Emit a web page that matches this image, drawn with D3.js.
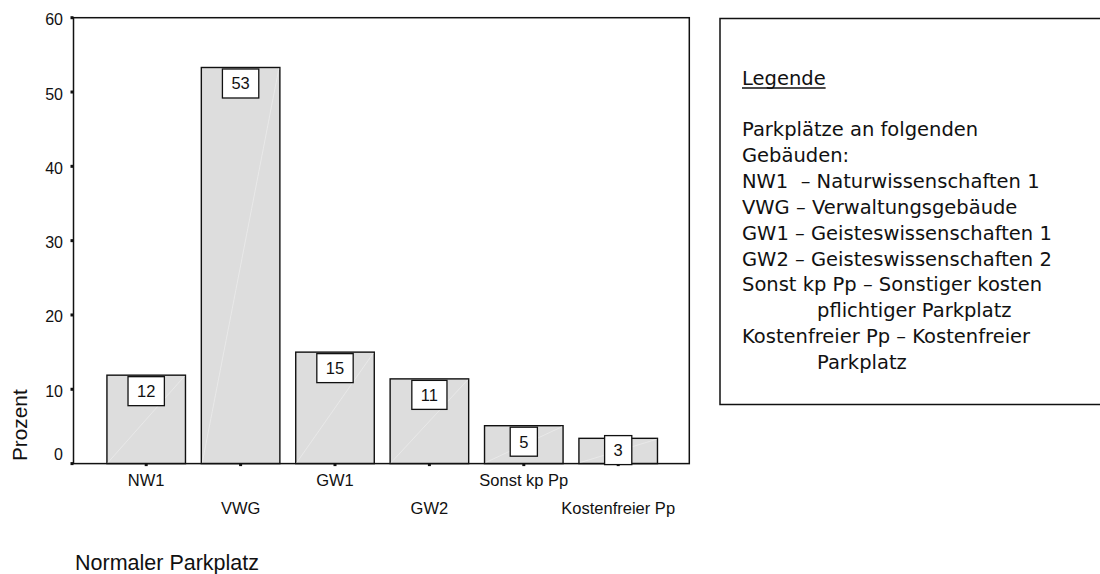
<!DOCTYPE html>
<html>
<head>
<meta charset="utf-8">
<script src="https://cdn.jsdelivr.net/npm/d3@7"></script>
<style>
  html, body { margin: 0; padding: 0; background: #fff; }
  svg { display: block; }
</style>
</head>
<body>
<svg id="chart" width="1100" height="574"></svg>
<script>
const categories = ["NW1", "VWG", "GW1", "GW2", "Sonst kp Pp", "Kostenfreier Pp"];
const values = [11.9, 53.3, 15.0, 11.4, 5.1, 3.4];
const valueLabels = ["12", "53", "15", "11", "5", "3"];
const yTicks = [0, 10, 20, 30, 40, 50, 60];
const yTitle = "Prozent";
const xTitle = "Normaler Parkplatz";
const legendTitle = "Legende";
const legendLines = [
  {text: "Parkplätze an folgenden", indent: false},
  {text: "Gebäuden:", indent: false},
  {text: "NW1  – Naturwissenschaften 1", indent: false},
  {text: "VWG – Verwaltungsgebäude", indent: false},
  {text: "GW1 – Geisteswissenschaften 1", indent: false},
  {text: "GW2 – Geisteswissenschaften 2", indent: false},
  {text: "Sonst kp Pp – Sonstiger kosten", indent: false},
  {text: "pflichtiger Parkplatz", indent: true},
  {text: "Kostenfreier Pp – Kostenfreier", indent: false},
  {text: "Parkplatz", indent: true}
];

const svg = d3.select("#chart");
const L = 73.5, T = 17.7, R = 689.3, B = 463.6;
const axisFont = "'Liberation Sans', Arial, sans-serif";

const y = d3.scaleLinear().domain([0, 60]).range([B, T]);
const x = d3.scaleBand().domain(categories).range([99, 665.4]).paddingInner(0.168).paddingOuter(0.084);

// bars
const bars = svg.append("g");
categories.forEach((c, i) => {
  const x0 = x(c), w = x.bandwidth(), yt = y(values[i]);
  bars.append("rect")
    .attr("x", x0).attr("y", yt).attr("width", w).attr("height", B - yt)
    .attr("fill", "#dddddd").attr("stroke", "#111").attr("stroke-width", 1.4);
  bars.append("line")
    .attr("x1", x0 + 1).attr("y1", B - 1).attr("x2", x0 + w - 1).attr("y2", yt + 1)
    .attr("stroke", "#ebebeb").attr("stroke-width", 0.8);
});

// frame
svg.append("rect").attr("x", L).attr("y", T).attr("width", R - L).attr("height", B - T)
  .attr("fill", "none").attr("stroke", "#111").attr("stroke-width", 1.5);

// y axis ticks + labels
const yg = svg.append("g");
yTicks.forEach(t => {
  yg.append("rect").attr("x", L - 3).attr("y", y(t) - 1.5).attr("width", 3).attr("height", 3).attr("fill", "#111");
  yg.append("text").attr("x", 63).attr("y", t === 0 ? 460 : y(t) + 7.5)
    .attr("text-anchor", "end").attr("font-family", axisFont).attr("font-size", 16)
    .attr("fill", "#111").text(t);
});

// x ticks + labels
const xg = svg.append("g");
categories.forEach((c, i) => {
  const cx = x(c) + x.bandwidth() / 2;
  xg.append("rect").attr("x", cx - 1.5).attr("y", B).attr("width", 3).attr("height", 2.5).attr("fill", "#111");
  xg.append("text").attr("x", cx).attr("y", i % 2 === 0 ? 486 : 514)
    .attr("text-anchor", "middle").attr("font-family", axisFont).attr("font-size", 16.5)
    .attr("fill", "#111").text(c);
});

// value label boxes
const lg = svg.append("g");
categories.forEach((c, i) => {
  const cx = x(c) + x.bandwidth() / 2;
  const top = Math.min(y(values[i]) + 1.5, B - 28);
  const g = lg.append("g");
  const rect = g.append("rect");
  const txt = g.append("text").attr("x", cx).attr("y", top + 20.5)
    .attr("text-anchor", "middle").attr("font-family", axisFont).attr("font-size", 16.5)
    .attr("fill", "#111").text(valueLabels[i]);
  const tw = txt.node().getComputedTextLength();
  const bw = tw + 18;
  rect.attr("x", cx - bw / 2).attr("y", top).attr("width", bw).attr("height", 29)
    .attr("fill", "#fff").attr("stroke", "#111").attr("stroke-width", 1.3);
});

// axis titles
svg.append("text").attr("transform", "translate(26.5,461) rotate(-90)")
  .attr("text-anchor", "start").attr("font-family", axisFont).attr("font-size", 20.8)
  .attr("fill", "#111").text(yTitle);
svg.append("text").attr("x", 75).attr("y", 570)
  .attr("font-family", axisFont).attr("font-size", 21.5)
  .attr("fill", "#111").text(xTitle);

// legend box
const legFont = "'DejaVu Sans', sans-serif";
svg.append("rect").attr("x", 720).attr("y", 18.5).attr("width", 400).attr("height", 386)
  .attr("fill", "#fff").attr("stroke", "#111").attr("stroke-width", 1.5);
const lt = svg.append("text").attr("x", 742).attr("y", 85)
  .attr("font-family", legFont).attr("font-size", 19.5).attr("fill", "#111").text(legendTitle);
const ltw = lt.node().getComputedTextLength();
svg.append("line").attr("x1", 742).attr("x2", 742 + ltw).attr("y1", 88).attr("y2", 88)
  .attr("stroke", "#111").attr("stroke-width", 1.3);
legendLines.forEach((d, i) => {
  svg.append("text").attr("x", d.indent ? 817 : 742).attr("y", 136 + i * 25.9)
    .attr("font-family", legFont).attr("font-size", 19.5).attr("fill", "#111")
    .attr("xml:space", "preserve").style("white-space", "pre").text(d.text);
});
</script>
</body>
</html>
